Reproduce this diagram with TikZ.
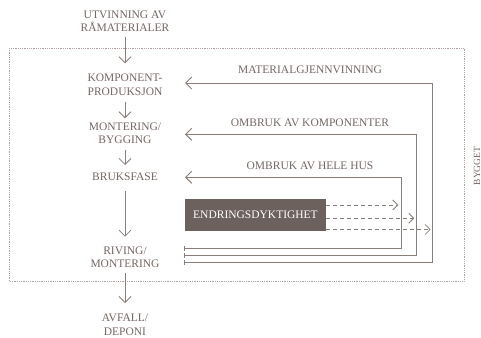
\documentclass[tikz,border=0pt]{standalone}
\usepackage{fontspec}
\setmainfont{Liberation Serif}
\usetikzlibrary{arrows.meta,calc}

\definecolor{txtc}{RGB}{116,102,98}
\definecolor{linec}{RGB}{136,126,122}
\definecolor{boxc}{RGB}{109,97,93}
\definecolor{dotc}{RGB}{178,160,160}

\tikzset{
  lbl/.style={font=\fontsize{11.5}{13.7}\selectfont, text=txtc, align=center, inner sep=0pt},
  flowarrow/.style={draw=linec, line width=0.8pt, -{Straight Barb[length=6pt,width=12pt]}},
  loopline/.style={draw=linec, line width=1pt, {Bar[width=4.5pt]}-{Straight Barb[length=6pt,width=12pt]}},
  dasharr/.style={draw=linec, line width=0.8pt, dash pattern=on 4pt off 3pt, -{Straight Barb[length=5pt,width=10pt]}},
  frame/.style={draw=dotc, line width=0.6pt, dash pattern=on 0.6pt off 1.2pt},
  featurebox/.style={fill=boxc, text=white, minimum width=141pt, minimum height=32pt, inner sep=0pt,
    font=\fontsize{11.5}{13.7}\selectfont},
}

\begin{document}
\begin{tikzpicture}[x=1pt, y=-1pt]
  \useasboundingbox (0,0) rectangle (481,337);

  % the building boundary
  \draw[frame] (9,48) rectangle (464,281);
  \node[lbl, font=\fontsize{9.5}{11}\selectfont, rotate=90] (bygget) at (477,166) {BYGGET};

  % life-cycle stages
  \node[lbl] (utv)  at (125,21.2)  {UTVINNING AV\\RÅMATERIALER};
  \node[lbl] (komp) at (125,84.5)  {KOMPONENT-\\PRODUKSJON};
  \node[lbl] (mont) at (125,133.3) {MONTERING/\\BYGGING};
  \node[lbl] (bruk) at (125,177.2) {BRUKSFASE};
  \node[lbl] (riv)  at (125,257.2) {RIVING/\\MONTERING};
  \node[lbl] (avf)  at (125,325)   {AVFALL/\\DEPONI};

  \draw[flowarrow] ($(utv.center)+(0,15.5)$)  -- ($(komp.center)+(0,-21.2)$);
  \draw[flowarrow] ($(komp.center)+(0,17.2)$) -- ($(mont.center)+(0,-15)$);
  \draw[flowarrow] ($(mont.center)+(0,16.7)$) -- ($(bruk.center)+(0,-12.2)$);
  \draw[flowarrow] ($(bruk.center)+(0,13.8)$) -- ($(riv.center)+(0,-20.5)$);
  \draw[flowarrow] ($(riv.center)+(0,15.8)$)  -- ($(avf.center)+(0,-22)$);

  % return loops
  \coordinate (r1) at (184,262.3);  \coordinate (c1) at (432,83);    \coordinate (t1) at (185,83);
  \coordinate (r2) at (184,255.7);  \coordinate (c2) at (416,134.3); \coordinate (t2) at (185,134.3);
  \coordinate (r3) at (184,248.3);  \coordinate (c3) at (401,177.3); \coordinate (t3) at (185,177.3);

  \draw[loopline] (r1) -| (c1) -- (t1);
  \draw[loopline] (r2) -| (c2) -- (t2);
  \draw[loopline] (r3) -| (c3) -- (t3);

  \node[lbl, anchor=base] (lmat)  at (310,74)    {MATERIALGJENNVINNING};
  \node[lbl, anchor=base] (lkomp) at (310,126.7) {OMBRUK AV KOMPONENTER};
  \node[lbl, anchor=base] (lhus)  at (310,169)   {OMBRUK AV HELE HUS};

  % adaptability
  \node[featurebox] (endr) at (255.5,215) {ENDRINGSDYKTIGHET};
  \coordinate (d1) at (398.3,205);
  \coordinate (d2) at (414.3,218.3);
  \coordinate (d3) at (430.7,229.5);
  \draw[dasharr] (endr.east |- d1) -- (d1);
  \draw[dasharr] (endr.east |- d2) -- (d2);
  \draw[dasharr] (endr.east |- d3) -- (d3);
\end{tikzpicture}
\end{document}
